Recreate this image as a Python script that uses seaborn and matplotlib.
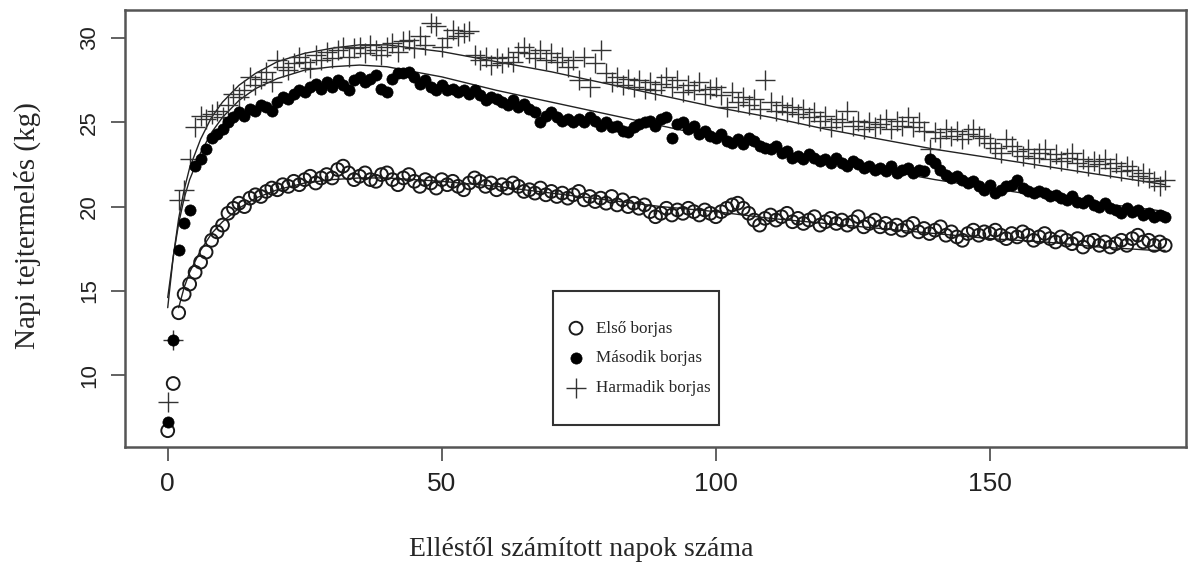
import numpy as np
import pandas as pd
import matplotlib
matplotlib.use("Agg")
import matplotlib.pyplot as plt
from matplotlib.patches import Rectangle
import seaborn as sns

# napi tejtermelés (kg), naponként az elléstől
elso = [6.7, 9.5, 13.7, 14.8, 15.4, 16.1, 16.7, 17.3, 18.0, 18.5,
        18.9, 19.6, 19.9, 20.2, 20.0, 20.5, 20.7, 20.6, 20.9, 21.1,
        21.0, 21.3, 21.2, 21.5, 21.3, 21.6, 21.8, 21.4, 21.7, 21.9,
        21.7, 22.2, 22.4, 22.0, 21.6, 21.8, 22.0, 21.6, 21.5, 21.9,
        22.0, 21.6, 21.3, 21.7, 21.9, 21.5, 21.2, 21.6, 21.4, 21.1,
        21.6, 21.3, 21.5, 21.2, 21.0, 21.4, 21.7, 21.5, 21.2, 21.4,
        21.0, 21.3, 21.1, 21.4, 21.2, 20.9, 21.0, 20.8, 21.1, 20.7,
        20.9, 20.6, 20.8, 20.5, 20.7, 20.9, 20.4, 20.6, 20.3, 20.5,
        20.2, 20.6, 20.1, 20.4, 20.0, 20.2, 19.9, 20.1, 19.7, 19.4,
        19.6, 19.9, 19.5, 19.8, 19.6, 19.9, 19.7, 19.5, 19.8, 19.6,
        19.4, 19.7, 19.9, 20.1, 20.2, 19.9, 19.6, 19.2, 18.9, 19.3,
        19.5, 19.2, 19.4, 19.6, 19.1, 19.3, 19.0, 19.2, 19.4, 18.9,
        19.1, 19.3, 19.0, 19.2, 18.9, 19.1, 19.4, 18.8, 19.0, 19.2,
        18.8, 19.0, 18.7, 18.9, 18.6, 18.8, 19.0, 18.5, 18.7, 18.4,
        18.6, 18.8, 18.3, 18.5, 18.2, 18.0, 18.4, 18.6, 18.3, 18.5,
        18.4, 18.6, 18.3, 18.1, 18.4, 18.2, 18.5, 18.3, 18.0, 18.2,
        18.4, 18.1, 17.9, 18.2, 18.0, 17.8, 18.1, 17.6, 17.9, 18.0,
        17.7, 17.9, 17.6, 17.8, 18.0, 17.7, 18.1, 18.3, 17.9, 18.0,
        17.7, 17.9, 17.7]

masodik = [7.2, 12.1, 17.4, 19.0, 19.8, 22.4, 22.8, 23.4, 24.1, 24.3,
           24.6, 25.0, 25.3, 25.6, 25.4, 25.8, 25.7, 26.0, 25.9, 25.7,
           26.2, 26.5, 26.4, 26.7, 26.9, 26.8, 27.1, 27.3, 27.0, 27.4,
           27.1, 27.5, 27.2, 26.9, 27.5, 27.7, 27.4, 27.6, 27.8, 27.0,
           26.8, 27.6, 27.9, 27.9, 28.0, 27.7, 27.3, 27.5, 27.1, 26.9,
           27.2, 26.9, 27.0, 26.8, 26.9, 26.7, 26.9, 26.6, 26.3, 26.5,
           26.4, 26.2, 26.0, 26.3, 25.9, 26.1, 25.8, 25.6, 25.0, 25.4,
           25.6, 25.3, 25.1, 25.2, 25.0, 25.2, 25.0, 25.3, 25.1, 24.8,
           25.0, 24.7, 24.8, 24.5, 24.4, 24.7, 24.9, 25.0, 25.1, 24.8,
           25.2, 25.3, 24.1, 24.9, 25.0, 24.6, 24.8, 24.3, 24.5, 24.2,
           24.1, 24.3, 23.9, 23.8, 24.0, 23.7, 24.1, 23.9, 23.6, 23.5,
           23.4, 23.6, 23.2, 23.3, 22.9, 23.0, 22.8, 23.1, 22.9, 22.7,
           22.8, 22.6, 22.9, 22.6, 22.4, 22.7, 22.5, 22.3, 22.4, 22.2,
           22.3, 22.1, 22.4, 22.0, 22.2, 22.3, 22.0, 22.2, 22.1, 22.8,
           22.6, 22.2, 21.9, 21.7, 21.8, 21.6, 21.4, 21.5, 21.2, 21.0,
           21.3, 20.8, 21.0, 21.2, 21.3, 21.6, 21.1, 20.9, 20.8, 20.9,
           20.8, 20.6, 20.7, 20.5, 20.4, 20.6, 20.3, 20.2, 20.4, 20.1,
           20.0, 20.2, 19.9, 19.8, 19.6, 19.9, 19.7, 19.8, 19.5, 19.6,
           19.4, 19.5, 19.4]

harmadik = [8.4, 12.1, 20.4, 21.0, 22.8, 24.7, 25.4, 25.2, 25.5, 25.7,
            25.3, 26.0, 26.7, 26.5, 26.9, 27.7, 27.2, 27.6, 28.0, 27.4,
            28.7, 28.3, 28.1, 28.5, 28.9, 28.6, 28.2, 29.0, 28.7, 29.2,
            28.8, 29.3, 29.5, 28.9, 29.4, 29.5, 29.1, 29.6, 29.3, 29.0,
            29.5, 29.7, 29.2, 29.8, 29.9, 29.4, 30.1, 29.6, 30.9, 30.7,
            29.5, 30.0, 30.5, 30.1, 30.3, 30.4, 29.0, 28.7, 28.9, 28.4,
            28.8, 28.5, 28.9, 28.6, 29.2, 29.5, 29.1, 28.8, 29.3, 28.7,
            29.1, 28.6, 28.9, 28.3, 28.7, 27.5, 28.9, 27.1, 28.5, 29.3,
            27.9, 27.4, 27.7, 27.2, 27.6, 27.1, 27.5, 27.0, 27.4, 26.9,
            27.3, 27.7, 27.1, 27.5, 26.8, 27.2, 26.9, 27.4, 26.7, 27.0,
            27.1, 26.6, 25.9, 26.8, 26.2, 26.5, 26.0, 26.4, 25.8, 27.5,
            26.2, 25.7, 26.0, 25.6, 25.9, 25.5, 25.8, 25.3, 25.6, 25.1,
            25.4, 24.7, 25.2, 25.0, 25.7, 24.8, 25.1, 24.6, 25.0, 24.7,
            24.9, 25.2, 24.6, 25.1, 24.8, 25.3, 24.7, 25.0, 24.5, 23.4,
            24.4, 24.1, 24.6, 24.2, 24.5, 24.0, 24.3, 24.6, 24.2, 24.1,
            23.8, 23.5, 23.2, 24.0, 23.6, 23.3, 23.0, 23.4, 22.9, 23.2,
            23.4, 22.8, 23.1, 22.7, 22.9, 23.2, 22.6, 22.8, 22.4, 22.7,
            22.5, 22.8, 22.3, 22.6, 22.1, 22.4, 22.2, 21.8, 22.0, 21.7,
            21.5, 21.2, 21.6]

napok = list(range(len(elso)))

# illesztett görbék (leolvasott pontok)
fit_napok = [0, 1, 2, 3, 4, 6, 8, 10, 13, 16, 20, 25, 30, 35, 40, 50, 60,
             70, 80, 90, 100, 110, 120, 130, 140, 150, 160, 170, 180, 182]
fit_elso = [None, None, 14.0, 15.2, 16.1, 17.4, 18.4, 19.1, 19.9, 20.5, 21.0,
            21.4, 21.6, 21.7, 21.7, 21.5, 21.2, 20.8, 20.4, 20.0, 19.7, 19.3,
            19.0, 18.7, 18.4, 18.1, 17.9, 17.6, 17.4, 17.4]
fit_masodik = [14.6, 17.0, 19.0, 20.5, 21.6, 23.2, 24.4, 25.3, 26.3, 27.0,
               27.6, 28.1, 28.3, 28.4, 28.3, 27.7, 26.9, 26.2, 25.5, 24.8,
               24.1, 23.4, 22.8, 22.2, 21.6, 21.1, 20.6, 20.2, 19.8, 19.7]
fit_harmadik = [14.0, 17.0, 19.3, 21.0, 22.3, 24.0, 25.3, 26.2, 27.2, 27.9,
                28.6, 29.1, 29.4, 29.6, 29.6, 29.2, 28.6, 28.0, 27.3, 26.6,
                25.9, 25.3, 24.6, 24.0, 23.4, 22.9, 22.4, 21.9, 21.4, 21.3]

sns.set_style("ticks")
plt.rcParams["font.family"] = ["Liberation Sans", "DejaVu Sans"]

fig = plt.figure(figsize=(11.97, 5.63), dpi=100)
ax = fig.add_axes([0.1044, 0.206, 0.8864, 0.776])

df_fit = pd.DataFrame({"nap": fit_napok, "e": fit_elso,
                       "m": fit_masodik, "h": fit_harmadik}).astype(float)
for col in ["e", "m", "h"]:
    sns.lineplot(data=df_fit, x="nap", y=col, ax=ax, color="#222222",
                 linewidth=1.0, zorder=1)

sns.scatterplot(x=napok, y=elso, ax=ax, marker="o", s=85,
                facecolors="none", edgecolor="#1a1a1a", linewidth=1.4,
                label="Első borjas", zorder=3)
sns.scatterplot(x=napok, y=masodik, ax=ax, marker="o", s=65,
                color="black", edgecolor="black", linewidth=0.5,
                label="Második borjas", zorder=3)
sns.scatterplot(x=napok, y=harmadik, ax=ax, marker="+", s=210,
                color="#333333", linewidth=1.0,
                label="Harmadik borjas", zorder=2)

ax.set_xlim(-7.8, 185.8)
ax.set_ylim(5.73, 31.66)
ax.set_xticks([0, 50, 100, 150])
ax.set_yticks([10, 15, 20, 25, 30])
ax.tick_params(axis="both", direction="out", length=10, width=1.3,
               color="#555555")
ax.tick_params(axis="x", labelsize=19, pad=8, labelcolor="#222222")
ax.tick_params(axis="y", labelsize=16, pad=8, labelcolor="#222222")
for lab in ax.get_yticklabels():
    lab.set_rotation(90)
    lab.set_va("center")
for sp in ax.spines.values():
    sp.set_visible(True)
    sp.set_color("#555555")
    sp.set_linewidth(1.8)

ax.set_xlabel("Elléstől számított napok száma", family="Liberation Serif",
              fontsize=20)
ax.set_ylabel("Napi tejtermelés (kg)", family="Liberation Serif",
              fontsize=21)
ax.xaxis.set_label_coords(0.43, -0.205)
ax.yaxis.set_label_coords(-0.092, 0.508)
ax.yaxis.label.set_va("center")

# jelmagyarázat kerete
ax.add_patch(Rectangle((0.403, 0.05), 0.157, 0.307, transform=ax.transAxes,
                       fill=True, facecolor="white", edgecolor="#333333",
                       linewidth=1.5, zorder=4))
leg = ax.legend(loc="center", bbox_to_anchor=(0.4835, 0.203), frameon=False,
                prop={"family": "Liberation Serif", "size": 12.3},
                labelspacing=0.8, borderpad=0.2, handletextpad=0.55,
                handlelength=1.3, borderaxespad=0)
leg.set_zorder(5)

fig.savefig("out.png", dpi=100)
